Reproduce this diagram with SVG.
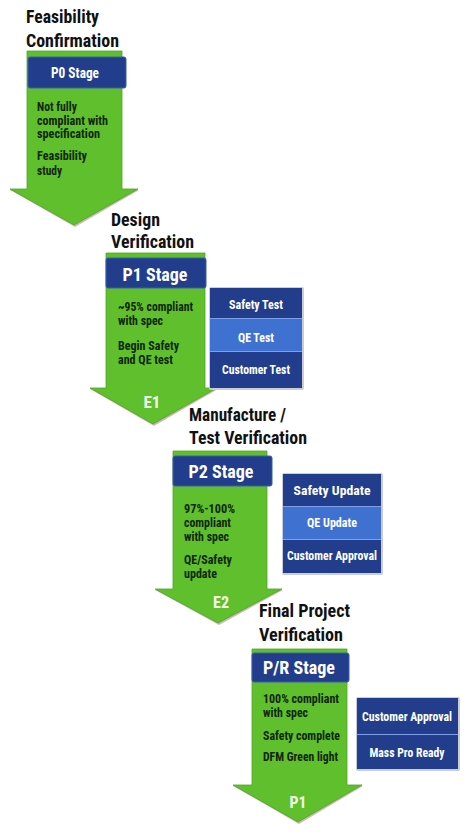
<svg xmlns="http://www.w3.org/2000/svg" width="474" height="835" viewBox="0 0 474 835">
<defs>
<style>
text{font-family:"Roboto Condensed","Roboto","Liberation Sans",sans-serif;font-weight:bold}
.title{font-size:19px;fill:#111}
.body{font-size:12px;fill:#12260c}
.stage{fill:#fff;font-size:18px;text-anchor:middle}
.side{fill:#fff;font-size:13px;text-anchor:middle}
.lbl{fill:#f2fbe8;font-size:17px;text-anchor:middle}
.arrow{fill:#60bf2d;stroke:#4ea424;stroke-width:0.8}
.shadow{fill:#8a6a5a;opacity:0.45}
.banner{fill:#213d8b;stroke:#3a5cb0;stroke-width:1}
.dark{fill:#213d8b}
.light{fill:#3f72d0}
.sep{stroke:#7fa0e6;stroke-width:1}
.boxsh{fill:#c9cdd6}
</style>
</defs>
<g id="connectors"></g>

<g id="stage-p0">
<text class="title" x="26" y="23" textLength="73" lengthAdjust="spacingAndGlyphs">Feasibility</text>
<text class="title" x="26" y="47" textLength="93" lengthAdjust="spacingAndGlyphs">Confirmation</text>
<path class="shadow" d="M10,190 L75,227 L139,190 Z"/>
<path class="arrow" d="M27,51 H122 V189 H138 L74,225 L10,189 H27 Z"/>
<rect class="banner" x="28" y="57" width="98" height="31" rx="2"/>
<text class="stage" x="75" y="78" style="font-size:15px" textLength="48" lengthAdjust="spacingAndGlyphs">P0 Stage</text>
<text class="body" x="37" y="111" textLength="40" lengthAdjust="spacingAndGlyphs">Not fully</text>
<text class="body" x="37" y="124.5" textLength="71" lengthAdjust="spacingAndGlyphs">compliant with</text>
<text class="body" x="37" y="138" textLength="63" lengthAdjust="spacingAndGlyphs">specification</text>
<text class="body" x="37" y="160" textLength="50" lengthAdjust="spacingAndGlyphs">Feasibility</text>
<text class="body" x="37" y="175" textLength="25" lengthAdjust="spacingAndGlyphs">study</text>
</g>

<g id="stage-p1">
<text class="title" x="111" y="226" textLength="49" lengthAdjust="spacingAndGlyphs">Design</text>
<text class="title" x="111" y="248" textLength="83" lengthAdjust="spacingAndGlyphs">Verification</text>
<path class="shadow" d="M90,389 L154,426 L218,389 Z"/>
<path class="arrow" d="M106,253 H205 V388 H217 L153,424 L90,388 H106 Z"/>
<rect class="banner" x="106" y="258" width="100" height="30" rx="2"/>
<text class="stage" x="155" y="281" textLength="65" lengthAdjust="spacingAndGlyphs">P1 Stage</text>
<text class="body" x="118" y="311" textLength="75" lengthAdjust="spacingAndGlyphs">~95% compliant</text>
<text class="body" x="118" y="325" textLength="45" lengthAdjust="spacingAndGlyphs">with spec</text>
<text class="body" x="118" y="350" textLength="61" lengthAdjust="spacingAndGlyphs">Begin Safety</text>
<text class="body" x="118" y="364" textLength="55" lengthAdjust="spacingAndGlyphs">and QE test</text>
<text class="lbl" x="152" y="408" textLength="17" lengthAdjust="spacingAndGlyphs">E1</text>
</g>

<g id="side-p1">
<rect class="boxsh" x="209" y="287" width="95" height="103" rx="2"/>
<rect class="dark" x="210" y="288" width="92" height="30"/>
<rect class="light" x="210" y="318" width="92" height="34"/>
<rect class="dark" x="210" y="352" width="92" height="36"/>
<line class="sep" x1="210" y1="318.5" x2="302" y2="318.5"/>
<line class="sep" x1="210" y1="351.5" x2="302" y2="351.5"/>
<text class="side" x="256" y="309" textLength="54" lengthAdjust="spacingAndGlyphs">Safety Test</text>
<text class="side" x="256" y="342" textLength="36" lengthAdjust="spacingAndGlyphs">QE Test</text>
<text class="side" x="256" y="374" textLength="68" lengthAdjust="spacingAndGlyphs">Customer Test</text>
</g>

<g id="stage-p2">
<text class="title" x="189" y="421" textLength="97" lengthAdjust="spacingAndGlyphs">Manufacture /</text>
<text class="title" x="189" y="444" textLength="118" lengthAdjust="spacingAndGlyphs">Test Verification</text>
<path class="shadow" d="M155,590 L219,625 L283,590 Z"/>
<path class="arrow" d="M173,451 H267 V589 H282 L218,623 L155,589 H173 Z"/>
<rect class="banner" x="173" y="456" width="99" height="30" rx="2"/>
<text class="stage" x="221" y="478" textLength="65" lengthAdjust="spacingAndGlyphs">P2 Stage</text>
<text class="body" x="184" y="513" textLength="51" lengthAdjust="spacingAndGlyphs">97%-100%</text>
<text class="body" x="184" y="527" textLength="47" lengthAdjust="spacingAndGlyphs">compliant</text>
<text class="body" x="184" y="541" textLength="45" lengthAdjust="spacingAndGlyphs">with spec</text>
<text class="body" x="184" y="564" textLength="48" lengthAdjust="spacingAndGlyphs">QE/Safety</text>
<text class="body" x="184" y="578" textLength="33" lengthAdjust="spacingAndGlyphs">update</text>
<text class="lbl" x="221" y="608" textLength="16" lengthAdjust="spacingAndGlyphs">E2</text>
</g>

<g id="side-p2">
<rect class="boxsh" x="282" y="473" width="101" height="102" rx="2"/>
<rect class="dark" x="283" y="474" width="98" height="32"/>
<rect class="light" x="283" y="506" width="98" height="34"/>
<rect class="dark" x="283" y="540" width="98" height="33"/>
<line class="sep" x1="283" y1="506.5" x2="381" y2="506.5"/>
<line class="sep" x1="283" y1="539.5" x2="381" y2="539.5"/>
<text class="side" x="332" y="495" textLength="77" lengthAdjust="spacingAndGlyphs">Safety Update</text>
<text class="side" x="332" y="527" textLength="50" lengthAdjust="spacingAndGlyphs">QE Update</text>
<text class="side" x="332" y="560" textLength="90" lengthAdjust="spacingAndGlyphs">Customer Approval</text>
</g>

<g id="stage-pr">
<text class="title" x="259" y="617" textLength="91" lengthAdjust="spacingAndGlyphs">Final Project</text>
<text class="title" x="259" y="641" textLength="84" lengthAdjust="spacingAndGlyphs">Verification</text>
<path class="shadow" d="M233,786 L299,824 L363,786 Z"/>
<path class="arrow" d="M252,649 H347 V785 H362 L298,822 L233,785 H252 Z"/>
<rect class="banner" x="252" y="653" width="97" height="29" rx="2"/>
<text class="stage" x="299" y="674" textLength="72" lengthAdjust="spacingAndGlyphs">P/R Stage</text>
<text class="body" x="263" y="703" textLength="76" lengthAdjust="spacingAndGlyphs">100% compliant</text>
<text class="body" x="263" y="717" textLength="45" lengthAdjust="spacingAndGlyphs">with spec</text>
<text class="body" x="263" y="740" textLength="77" lengthAdjust="spacingAndGlyphs">Safety complete</text>
<text class="body" x="263" y="761" textLength="75" lengthAdjust="spacingAndGlyphs">DFM Green light</text>
<text class="lbl" x="298" y="808" textLength="17" lengthAdjust="spacingAndGlyphs">P1</text>
</g>

<g id="side-pr">
<rect class="boxsh" x="356" y="697" width="104" height="74" rx="2"/>
<rect class="dark" x="357" y="698" width="101" height="36"/>
<rect class="dark" x="357" y="734" width="101" height="35"/>
<line class="sep" x1="357" y1="734.5" x2="458" y2="734.5"/>
<text class="side" x="407" y="721" textLength="90" lengthAdjust="spacingAndGlyphs">Customer Approval</text>
<text class="side" x="407" y="757" textLength="75" lengthAdjust="spacingAndGlyphs">Mass Pro Ready</text>
</g>
</svg>
